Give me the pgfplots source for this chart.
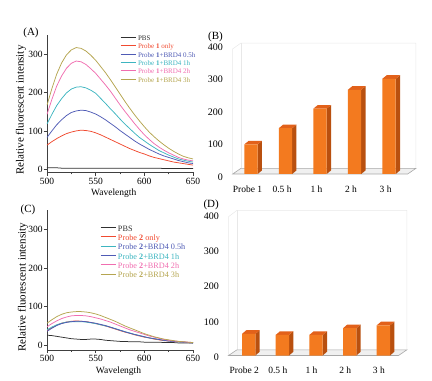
\documentclass[border=0pt]{standalone}
\usepackage{fontspec}
\setmainfont{Liberation Serif}
\usepackage{pgfplots}
\usepackage{pgfplotstable}
\pgfplotsset{compat=1.18}
\definecolor{cax}{HTML}{404040}
\definecolor{cpbs}{HTML}{303030}
\definecolor{cred}{HTML}{F04A30}
\definecolor{cblue}{HTML}{4F5BB5}
\definecolor{ccyan}{HTML}{3DB5C0}
\definecolor{cpink}{HTML}{F06EB0}
\definecolor{colive}{HTML}{B5A550}
\definecolor{bfront}{HTML}{F37A1F}
\definecolor{btop}{HTML}{E2611A}
\definecolor{bside}{HTML}{B9500F}
\definecolor{cfloor}{HTML}{F0F0F0}
\definecolor{cfloorline}{HTML}{A8A8A8}
\definecolor{cwall}{HTML}{E8E8E8}

\pgfplotstableread{
wl pbs p h05 h1 h2 h3
500 4 63 83 118 143 167
505 4 72 100 143 182 210
510 4 80 116 166 217 248
515 3 87 129 184 243 277
520 3 93 140 199 263 298
525 3 97 148 209 276 311
530 3 100 152 214 282 317
535 3 102 154 215 280 315
540 3 101 153 212 273 308
545 3 99 149 206 262 297
550 3 95 144 198 250 284
555 3 90 137 185 235 268
560 3 84 129 172 220 252
565 3 78 120 158 204 234
570 3 72 111 145 186 215
575 3 66 101 131 168 196
580 3 60 92 118 151 177
585 3 54 83 106 135 159
590 3 49 74 94 119 142
595 3 44 66 83 104 126
600 3 40 59 74 90 111
605 3 35 52 65 78 97
610 3 31 46 57 67 85
615 3 28 40 49 58 74
620 2 25 35 43 50 64
625 2 22 31 37 43 55
630 2 19 27 32 37 47
635 2 17 23 27 31 40
640 2 15 20 24 27 34
645 2 13 17 21 24 30
650 2 11 15 19 22 27
}\dataA

\pgfplotstableread{
wl pbs p h05 h1 h2 h3
500 26 38 36 40 48 57
505 25 45 44 47 56 66
510 23 52 51 53 63 74
515 21 57 56 57 69 80
520 19 60 59 60 73 84
525 17 62 61 61 76 86
530 16 63 62 61 77 87
535 15 62 62 61 77 87
540 15 61 61 60 76 86
545 16 59 59 58 74 84
550 16 56 57 56 71 81
555 15 53 54 53 68 77
560 13 50 51 50 64 72
565 12 46 47 47 60 67
570 11 42 43 43 55 62
575 10 38 39 39 50 56
580 10 34 35 35 45 50
585 9 31 31 32 40 45
590 9 27 28 28 36 40
595 9 24 25 25 32 35
600 8 21 22 22 28 30
605 8 19 19 19 24 26
610 8 16 17 17 21 22
615 8 14 15 15 18 19
620 7 12 13 13 15 16
625 7 11 11 11 13 14
630 7 10 10 10 11 12
635 6 9 9 9 10 10
640 6 8 8 8 9 9
645 6 7 7 7 8 8
650 6 6 6 6 7 7
}\dataC

\pgfplotsset{
  spec/.style={
    scale only axis, width=146bp,
    xmin=500, xmax=650, ymax=350,
    axis x line*=bottom, axis y line*=left,
    axis line style={-, draw=cax, line width=0.8bp},
    tick align=outside, major tick length=3.3bp, minor tick length=2bp,
    xtick={500,550,600,650}, minor xtick={525,575,625}, ytick={0,100,200,300},
    tick style={cax, line width=0.7bp},
    tick label style={font=\fontsize{9.5bp}{11bp}\selectfont},
    yticklabel style={inner sep=1bp},
    xticklabel style={inner sep=2bp},
    /pgf/number format/assume math mode=true,
    every axis x label/.style={anchor=center, font=\fontsize{9.5bp}{11bp}\selectfont},
    every axis y label/.style={rotate=90, anchor=center, font=\fontsize{11bp}{13bp}\selectfont},
    legend cell align=left,
    legend image code/.code={\draw[##1, line width=0.8bp] (0bp,2bp) -- (15bp,2bp);},
    legend style={draw=none, fill=none, anchor=north west, inner sep=0pt, column sep=2bp},
    every axis plot/.append style={line width=0.75bp},
    xlabel={Wavelength}, ylabel={Relative fluorescent intensity},
  },
  bars/.style={
    scale only axis, clip=false,
    ymin=0, ymax=400,
    axis x line*=bottom, axis y line*=left,
    axis line style={draw=none}, tick style={draw=none}, major tick length=0pt,
    xtick={0,1,2,3,4}, ytick={0,100,200,300,400},
    /pgf/number format/assume math mode=true,
    yticklabel style={font=\fontsize{10bp}{12bp}\selectfont},
    xticklabel style={font=\fontsize{9.5bp}{11bp}\selectfont},
  },
}

\begin{document}
\begin{tikzpicture}
\useasboundingbox (0,0) rectangle (432bp,381bp);

% ---------- (A)
\begin{axis}[spec, at={(47bp,208.6bp)}, anchor=south west, height=137.5bp, ymin=-8,
  xlabel style={at={(axis description cs:0.457,0)}, yshift=-20.6bp},
  ylabel style={at={(axis description cs:-0.178,0.454)}},
  legend style={at={(axis description cs:0.5,1.0)}, font=\fontsize{7bp}{8bp}\selectfont,
    nodes={inner sep=0pt, text height=5.5bp, text depth=2.85bp}}]
\addplot[cpbs] table[x=wl,y=pbs]{\dataA};
\addlegendentry{\textcolor{cpbs}{PBS}}
\addplot[cred] table[x=wl,y=p]{\dataA};
\addlegendentry{\textcolor{cred}{Probe \textbf{1} only}}
\addplot[cblue] table[x=wl,y=h05]{\dataA};
\addlegendentry{\textcolor{cblue}{Probe \textbf{1}+BRD4 0.5h}}
\addplot[ccyan] table[x=wl,y=h1]{\dataA};
\addlegendentry{\textcolor{ccyan}{Probe \textbf{1}+BRD4 1h}}
\addplot[cpink] table[x=wl,y=h2]{\dataA};
\addlegendentry{\textcolor{cpink}{Probe \textbf{1}+BRD4 2h}}
\addplot[colive] table[x=wl,y=h3]{\dataA};
\addlegendentry{\textcolor{colive}{Probe \textbf{1}+BRD4 3h}}
\end{axis}

% ---------- (C)
\begin{axis}[spec, at={(47bp,31.1bp)}, anchor=south west, height=140bp, ymin=-12,
  xlabel style={at={(axis description cs:0.49,0)}, yshift=-21.8bp},
  ylabel style={at={(axis description cs:-0.165,0.446)}},
  legend style={at={(axis description cs:0.363,0.894)}, font=\fontsize{8.2bp}{9bp}\selectfont,
    nodes={inner sep=0pt, text height=6.4bp, text depth=2.9bp}}]
\addplot[cpbs] table[x=wl,y=pbs]{\dataC};
\addlegendentry{\textcolor{cpbs}{PBS}}
\addplot[cred] table[x=wl,y=p]{\dataC};
\addlegendentry{\textcolor{cred}{Probe \textbf{2} only}}
\addplot[ccyan] table[x=wl,y=h1]{\dataC};
\addplot[cblue] table[x=wl,y=h05]{\dataC};
\addplot[cpink] table[x=wl,y=h2]{\dataC};
\addplot[colive] table[x=wl,y=h3]{\dataC};
\addlegendimage{cblue}
\addlegendentry{\textcolor{cblue}{Probe \textbf{2}+BRD4 0.5h}}
\addlegendimage{ccyan}
\addlegendentry{\textcolor{ccyan}{Probe \textbf{2}+BRD4 1h}}
\addlegendimage{cpink}
\addlegendentry{\textcolor{cpink}{Probe \textbf{2}+BRD4 2h}}
\addlegendimage{colive}
\addlegendentry{\textcolor{colive}{Probe \textbf{2}+BRD4 3h}}
\end{axis}

% ---------- (B)
\begin{axis}[bars, at={(232.7bp,207bp)}, anchor=south west, width=175bp, height=130bp,
  xmin=-0.53, xmax=4.54,
  xticklabels={Probe 1, 0.5 h, 1 h, 2 h, 3 h},
  yticklabel style={xshift=-6.4bp, yshift=-3bp},
  xticklabel style={xshift=-3.5bp, yshift=-8bp}]
\addplot[draw=cwall, line width=0.5bp] coordinates {(-0.53,0) (-0.53,385) (-0.29,403) (4.78,403) (4.78,17.5)};
\addplot[draw=cwall, line width=0.5bp] coordinates {(-0.29,17.5) (-0.29,403)};
\addplot[fill=cfloor, draw=cfloorline, line width=0.6bp] coordinates {(-0.53,0) (4.54,0) (4.78,17.5) (-0.29,17.5)} -- cycle;
% side faces
\addplot[fill=bside, draw=none] coordinates {(0.193,0) (0.318,11) (0.318,102) (0.193,91)};
\addplot[fill=bside, draw=none] coordinates {(1.193,0) (1.318,11) (1.318,152) (1.193,141)};
\addplot[fill=bside, draw=none] coordinates {(2.193,0) (2.318,11) (2.318,212) (2.193,201)};
\addplot[fill=bside, draw=none] coordinates {(3.193,0) (3.318,11) (3.318,270) (3.193,259)};
\addplot[fill=bside, draw=none] coordinates {(4.193,0) (4.318,11) (4.318,304) (4.193,293)};
% top faces
\addplot[fill=btop, draw=none] coordinates {(-0.193,91) (0.193,91) (0.318,102) (-0.068,102)};
\addplot[fill=btop, draw=none] coordinates {(0.807,141) (1.193,141) (1.318,152) (0.932,152)};
\addplot[fill=btop, draw=none] coordinates {(1.807,201) (2.193,201) (2.318,212) (1.932,212)};
\addplot[fill=btop, draw=none] coordinates {(2.807,259) (3.193,259) (3.318,270) (2.932,270)};
\addplot[fill=btop, draw=none] coordinates {(3.807,293) (4.193,293) (4.318,304) (3.932,304)};
% front faces
\addplot[ybar, bar width=0.386, fill=bfront, draw=none] coordinates {(0,91) (1,141) (2,201) (3,259) (4,293)};
\node[anchor=east, inner sep=0pt, font=\fontsize{11bp}{13bp}\selectfont, xshift=-9.7bp]
  at (axis description cs:0,1.054) {(B)};
\end{axis}

% ---------- (D)
\begin{axis}[bars, at={(228.5bp,25.5bp)}, anchor=south west, width=170bp, height=141.6bp,
  xmin=-0.6, xmax=4.45,
  xticklabels={Probe 2, 0.5 h, 1 h, 2 h, 3 h},
  yticklabel style={xshift=-6.2bp, yshift=-2bp},
  xticklabel style={xshift=-4.5bp, yshift=-7.5bp}]
\addplot[draw=cwall, line width=0.5bp] coordinates {(-0.6,0) (-0.6,392) (-0.35,410) (4.7,410) (4.7,16)};
\addplot[draw=cwall, line width=0.5bp] coordinates {(-0.35,16) (-0.35,410)};
\addplot[fill=cfloor, draw=cfloorline, line width=0.6bp] coordinates {(-0.6,0) (4.45,0) (4.7,16) (-0.35,16)} -- cycle;
% side faces
\addplot[fill=bside, draw=none] coordinates {(0.198,0) (0.326,10.5) (0.326,71.5) (0.198,61)};
\addplot[fill=bside, draw=none] coordinates {(1.198,0) (1.326,10.5) (1.326,68.5) (1.198,58)};
\addplot[fill=bside, draw=none] coordinates {(2.198,0) (2.326,10.5) (2.326,68.5) (2.198,58)};
\addplot[fill=bside, draw=none] coordinates {(3.198,0) (3.326,10.5) (3.326,87.5) (3.198,77)};
\addplot[fill=bside, draw=none] coordinates {(4.198,0) (4.326,10.5) (4.326,95.5) (4.198,85)};
% top faces
\addplot[fill=btop, draw=none] coordinates {(-0.198,61) (0.198,61) (0.326,71.5) (-0.07,71.5)};
\addplot[fill=btop, draw=none] coordinates {(0.802,58) (1.198,58) (1.326,68.5) (0.93,68.5)};
\addplot[fill=btop, draw=none] coordinates {(1.802,58) (2.198,58) (2.326,68.5) (1.93,68.5)};
\addplot[fill=btop, draw=none] coordinates {(2.802,77) (3.198,77) (3.326,87.5) (2.93,87.5)};
\addplot[fill=btop, draw=none] coordinates {(3.802,85) (4.198,85) (4.326,95.5) (3.93,95.5)};
% front faces
\addplot[ybar, bar width=0.396, fill=bfront, draw=none] coordinates {(0,61) (1,58) (2,58) (3,77) (4,85)};
\node[anchor=east, inner sep=0pt, font=\fontsize{11bp}{13bp}\selectfont, xshift=-9.5bp]
  at (axis description cs:0,1.063) {(D)};
\end{axis}

% panel letters
\node[font=\fontsize{11bp}{13bp}\selectfont] at (31bp,348bp) {(A)};
\node[font=\fontsize{11bp}{13bp}\selectfont] at (28bp,171bp) {(C)};
\end{tikzpicture}
\end{document}
